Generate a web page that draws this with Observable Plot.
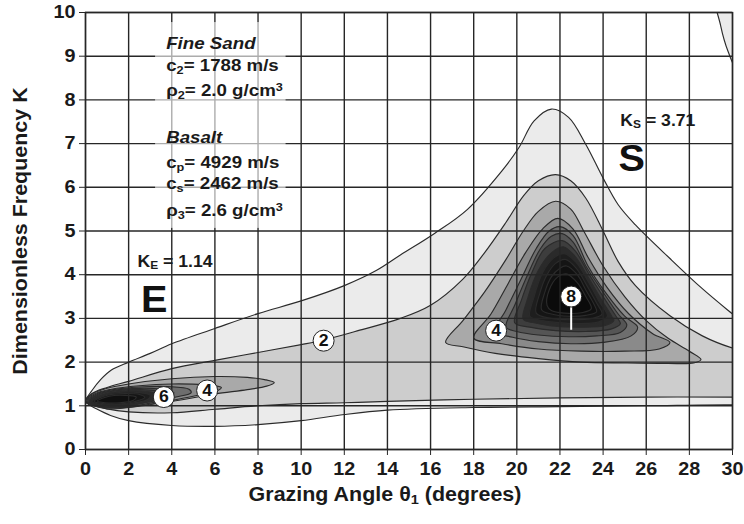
<!DOCTYPE html>
<html><head><meta charset="utf-8">
<script src="https://cdn.jsdelivr.net/npm/d3@7"></script>
<script src="https://cdn.jsdelivr.net/npm/@observablehq/plot@0.6"></script>
<style>
body{margin:0;background:#fff;}
#chart{width:744px;height:524px;}
svg text{font-family:"Liberation Sans",Arial,sans-serif;}
</style></head><body><div id="chart"></div>
<script>
// ---- axes ----
const xTicks = [0,2,4,6,8,10,12,14,16,18,20,22,24,26,28,30];
const yTicks = [0,1,2,3,4,5,6,7,8,9,10];

// ---- contour outlines: [theta, K] ----
const c1 = [[0,1.1],[0.3,1.35],[0.7,1.6],[1.2,1.82],[2,2.0],[3,2.2],[4,2.42],[6,2.77],[8,3.11],[10,3.4],[12,3.75],[13.5,4.1],[14.6,4.45],[16.2,4.95],[17.7,5.49],[19.3,6.37],[20.1,6.91],[20.8,7.52],[21.6,7.79],[22.4,7.6],[23.2,6.98],[24,6.21],[24.7,5.6],[25.5,5.14],[27.1,4.37],[28.6,3.68],[30,3.1],[31,2.7],[31.5,1.9],[31,1.0],[30,1.02],[26,1.0],[22,0.98],[18,0.96],[14,0.9],[12,0.8],[10,0.66],[8,0.57],[6,0.53],[4,0.55],[2,0.66],[1.16,0.78],[0.5,0.93],[0.15,1.03]];
const c2 = [[0,1.1],[0.3,1.28],[1,1.42],[2,1.56],[4,1.85],[6,2.04],[8,2.22],[10,2.4],[11,2.5],[12.5,2.7],[14.6,3.0],[16,3.3],[17.5,3.9],[18.5,4.5],[19.5,5.2],[20.3,5.8],[21,6.15],[21.8,6.29],[22.5,6.15],[23.2,5.75],[24,5.0],[24.7,4.3],[25.5,3.75],[27.1,3.06],[28.6,2.6],[30,2.32],[31,2.2],[31.5,1.7],[31,1.2],[30,1.2],[26,1.2],[22,1.18],[18,1.15],[14,1.1],[12,1.07],[10,1.05],[8,1.0],[6,0.92],[4,0.84],[2,0.86],[1,0.93],[0.4,1.02]];
const c3E = [[0,1.1],[0.3,1.27],[1,1.4],[2,1.5],[4,1.62],[6,1.67],[7.5,1.65],[8.3,1.6],[8.75,1.53],[8.4,1.45],[7.5,1.37],[6,1.27],[4,1.1],[2,0.96],[1,0.93],[0.4,1.0]];
const c4E = [[0,1.1],[0.4,1.27],[1.2,1.38],[2.5,1.46],[4,1.5],[5.5,1.48],[6.3,1.42],[6.1,1.34],[5.2,1.24],[4,1.12],[2.5,1.0],[1.2,0.95],[0.4,1.0]];
const c5E = [[0.05,1.1],[0.5,1.27],[1.3,1.37],[2.5,1.43],[3.8,1.44],[4.8,1.38],[4.9,1.3],[4.2,1.2],[3,1.06],[1.8,0.97],[0.8,0.96],[0.3,1.02]];
const c6E = [[0.1,1.1],[0.6,1.27],[1.4,1.36],[2.5,1.4],[3.5,1.38],[4.1,1.3],[3.8,1.2],[2.9,1.08],[1.8,0.98],[0.9,0.97],[0.35,1.03]];
const c7E = [[0.15,1.1],[0.7,1.27],[1.5,1.35],[2.5,1.37],[3.3,1.34],[3.7,1.26],[3.3,1.15],[2.4,1.04],[1.5,0.98],[0.8,0.98],[0.35,1.04]];
const c8E = [[0.2,1.1],[0.8,1.26],[1.6,1.33],[2.5,1.34],[3.2,1.29],[3.35,1.21],[2.9,1.11],[2.0,1.02],[1.1,0.99],[0.5,1.03]];
const c9E = [[0.3,1.1],[0.9,1.25],[1.7,1.31],[2.5,1.3],[3.0,1.24],[2.9,1.15],[2.2,1.06],[1.3,1.01],[0.6,1.04]];
const c10E = [[0.4,1.1],[1.0,1.24],[1.8,1.28],[2.5,1.26],[2.75,1.19],[2.3,1.1],[1.5,1.04],[0.8,1.05]];
const c11E = [[0.55,1.11],[1.1,1.22],[1.8,1.24],[2.35,1.2],[2.2,1.12],[1.6,1.07],[0.9,1.07]];
const c3S = [[16.7,2.45],[17.5,2.95],[18.5,3.6],[19.5,4.35],[20.3,5.0],[21,5.45],[21.8,5.68],[22.5,5.5],[23.1,5.0],[24,4.2],[25,3.5],[26,2.95],[27,2.55],[28,2.25],[28.54,2.06],[28.2,1.98],[27,1.97],[25,1.98],[23,2.0],[21,2.08],[19,2.2],[17.5,2.35]];
const c4S = [[18.0,2.55],[18.8,3.1],[19.6,3.8],[20.4,4.5],[21.2,5.05],[21.9,5.29],[22.6,5.05],[23.3,4.4],[24.2,3.7],[25.2,3.1],[26.3,2.65],[27.1,2.45],[26.6,2.3],[25,2.25],[23,2.25],[21,2.3],[19.3,2.42]];
const c5S = [[19.0,2.7],[19.5,3.2],[20.2,3.9],[20.9,4.6],[21.5,5.0],[22.0,5.1],[22.6,4.9],[23.3,4.2],[24.1,3.6],[25.0,3.05],[25.6,2.8],[25.3,2.6],[24,2.45],[22.5,2.42],[21,2.47],[19.8,2.57]];
const c6S = [[19.5,2.8],[19.9,3.3],[20.5,4.0],[21.1,4.6],[21.6,4.88],[22.1,4.94],[22.6,4.75],[23.2,4.2],[24,3.6],[24.7,3.1],[25.1,2.85],[24.8,2.68],[23.7,2.6],[22.4,2.58],[21,2.62],[20,2.7]];
const c7S = [[19.9,2.9],[20.2,3.4],[20.7,4.05],[21.3,4.6],[22.1,4.78],[22.7,4.55],[23.3,4.05],[24,3.5],[24.6,3.05],[24.8,2.88],[24.4,2.76],[23.2,2.7],[21.8,2.72],[20.6,2.8]];
const c8S = [[20.3,2.98],[20.5,3.45],[21.0,4.1],[21.6,4.5],[22.15,4.64],[22.7,4.42],[23.3,3.95],[23.9,3.45],[24.4,3.05],[24.5,2.95],[24.1,2.84],[23,2.8],[21.6,2.83],[20.8,2.9]];
const c9S = [[20.6,3.05],[20.8,3.5],[21.2,4.05],[21.7,4.38],[22.2,4.48],[22.75,4.28],[23.3,3.85],[23.8,3.4],[24.2,3.05],[23.8,2.92],[22.8,2.88],[21.6,2.92],[20.9,2.98]];
const c10S = [[20.9,3.12],[21.05,3.55],[21.4,4.0],[21.8,4.26],[22.25,4.35],[22.75,4.15],[23.25,3.75],[23.7,3.35],[23.95,3.1],[23.5,3.0],[22.6,2.97],[21.6,3.0]];
const c11S = [[21.15,3.2],[21.3,3.6],[21.6,3.95],[22.0,4.15],[22.3,4.2],[22.8,4.0],[23.2,3.65],[23.6,3.3],[23.7,3.15],[23.2,3.07],[22.4,3.05],[21.6,3.1]];
const c12S = [[21.4,3.3],[21.5,3.65],[21.9,3.95],[22.3,4.02],[22.8,3.82],[23.2,3.5],[23.45,3.22],[23.0,3.13],[22.2,3.12],[21.6,3.18]];
const cCorner = [[29.2,10.6],[29.45,9.7],[29.8,9.1],[30.3,8.6],[31,8.4],[31,10.6]];

const shapes = [
  {level:1, pts:c1}, {level:2, pts:c2},
  {level:3, pts:c3E}, {level:4, pts:c4E}, {level:5, pts:c5E}, {level:6, pts:c6E}, {level:7, pts:c7E},
  {level:8, pts:c8E}, {level:9, pts:c9E}, {level:10, pts:c10E}, {level:11, pts:c11E},
  {level:3, pts:c3S}, {level:4, pts:c4S}, {level:5, pts:c5S}, {level:6, pts:c6S}, {level:7, pts:c7S},
  {level:8, pts:c8S}, {level:9, pts:c9S}, {level:10, pts:c10S}, {level:11, pts:c11S}, {level:12, pts:c12S},
  {level:1, pts:cCorner}
];

// ---- labels ----
const circleLabels = [
  {x:11.04, y:2.49, t:"2"}, {x:19.04, y:2.72, t:"4"}, {x:22.52, y:3.5, t:"8"},
  {x:5.64, y:1.35, t:"4"}, {x:3.63, y:1.2, t:"6"}
];
const pointer = [{x:22.52, y1:3.27, y2:2.74}];
const infoTitles = [
  {x:3.74, y:9.29, t:"Fine Sand"},
  {x:3.74, y:7.14, t:"Basalt"}
];
const infoLines = [
  {x:3.74, y:8.79, t:"c_{2}= 1788 m/s"},
  {x:3.74, y:8.22, t:"ρ_{2}= 2.0 g/cm^{3}"},
  {x:3.74, y:6.57, t:"c_{p}= 4929 m/s"},
  {x:3.74, y:6.08, t:"c_{s}= 2462 m/s"},
  {x:3.74, y:5.47, t:"ρ_{3}= 2.6 g/cm^{3}"}
];
const infoBox = [{x1:3.25, x2:9.3, y1:5.06, y2:9.77}];
const peakLabels = [
  {x:2.41, y:4.29, t:"K_{E} = 1.14"},
  {x:24.8, y:7.52, t:"K_{S} = 3.71"}
];
const peakLetters = [
  {x:3.18, y:3.41, t:"E"}, {x:25.32, y:6.64, t:"S"}
];

const fills = ["#ffffff","#ebebeb","#cdcdcd","#a9a9a9","#8a8a8a","#6e6e6e","#555555","#3d3d3d","#2a2a2a","#1e1e1e","#151515","#101010","#0b0b0b"];

const contourMarks = shapes.map(s => Plot.line(s.pts, {
  x: d => d[0], y: d => d[1], fill: fills[s.level], stroke: "#2b2b2b", strokeWidth: 1.15,
  curve: "catmull-rom-closed", clip: true
}));

const chart = Plot.plot({
  width: 744, height: 524,
  marginLeft: 85, marginRight: 12, marginTop: 12, marginBottom: 75,
  x: {domain: [0, 30]},
  y: {domain: [0, 10]},
  style: {fontFamily: "'Liberation Sans', Arial, sans-serif", color: "#1a1a1a"},
  marks: [
    ...contourMarks,
    Plot.gridX(xTicks, {stroke: "#262626", strokeOpacity: 1, strokeWidth: 1.4}),
    Plot.gridY(yTicks, {stroke: "#262626", strokeOpacity: 1, strokeWidth: 1.4}),
    Plot.rect(infoBox, {x1:"x1", x2:"x2", y1:"y1", y2:"y2", fill:"white", fillOpacity:0.62}),
    Plot.frame({stroke: "#262626", strokeWidth: 1.4}),
    Plot.axisX(xTicks, {tickSize: 6, tickPadding: 7, fontSize: 18, fontWeight: "bold", label: null, stroke:"#262626"}),
    Plot.axisY(yTicks, {tickSize: 6, tickPadding: 4, fontSize: 18, fontWeight: "bold", label: null, stroke:"#262626"}),
    Plot.text(["Grazing Angle θ_{1} (degrees)"], {frameAnchor: "bottom", dx: -24, dy: 51, fontSize: 19.5, fontWeight: "bold", text: d => d}),
    Plot.text(["Dimensionless Frequency K"], {frameAnchor: "left", textAnchor: "middle", dx: -65, rotate: -90, fontSize: 19.5, fontWeight: "bold", text: d => d}),
    Plot.link(pointer, {x1:"x", x2:"x", y1:"y1", y2:"y2", stroke:"white", strokeWidth:2}),
    Plot.dot(circleLabels, {x:"x", y:"y", r:10.5, fill:"white", stroke:"#222", strokeWidth:1}),
    Plot.text(circleLabels, {x:"x", y:"y", text:"t", fontSize:16, fontWeight:"bold", fill:"#111"}),
    Plot.text(infoTitles, {x:"x", y:"y", text:"t", textAnchor:"start", fontSize:17, fontWeight:"bold", fontStyle:"italic", fill:"#1a1a1a"}),
    Plot.text(infoLines, {x:"x", y:"y", text:"t", textAnchor:"start", fontSize:17, fontWeight:"bold", fill:"#1a1a1a"}),
    Plot.text(peakLabels, {x:"x", y:"y", text:"t", textAnchor:"start", fontSize:16, fontWeight:"bold", fill:"#1a1a1a"}),
    Plot.text(peakLetters, {x:"x", y:"y", text:"t", fontSize:36, fontWeight:"bold", fill:"#111"})
  ]
});

// rich text: _{sub} and ^{sup}
d3.select(chart).selectAll("text").each(function() {
  const t = this.textContent;
  if (!/[_^]\{/.test(t) || this.querySelector("tspan")) return;
  const sel = d3.select(this);
  sel.text("");
  const re = /([_^])\{([^}]*)\}|([^_^]+)/g;
  let m;
  while ((m = re.exec(t))) {
    if (m[3]) sel.append("tspan").text(m[3]);
    else sel.append("tspan").attr("font-size", "68%").attr("baseline-shift", m[1] === "_" ? "-22%" : "38%").text(m[2]);
  }
});
document.getElementById("chart").appendChild(chart);
// the reference lettering is slightly wider than Arial: widen every text a little
d3.select(chart).selectAll("text").each(function() {
  const len = this.getComputedTextLength();
  if (len > 0) {
    this.setAttribute("textLength", (len * 1.1).toFixed(1));
    this.setAttribute("lengthAdjust", "spacingAndGlyphs");
  }
});
</script></body></html>
